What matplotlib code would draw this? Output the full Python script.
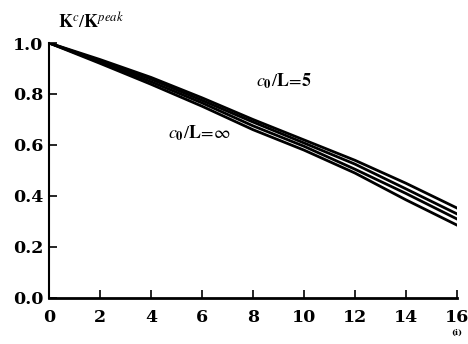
import matplotlib
matplotlib.use('Agg')
import matplotlib.pyplot as plt

# Values
omega = [0, 2, 4, 6, 8, 10, 12, 14, 16]
k_ratio_1 = [1.0, 0.935, 0.865, 0.785, 0.700, 0.620, 0.540, 0.450, 0.353]
k_ratio_2 = [1.0, 0.930, 0.858, 0.775, 0.690, 0.608, 0.525, 0.428, 0.330]
k_ratio_3 = [1.0, 0.925, 0.848, 0.765, 0.675, 0.595, 0.505, 0.410, 0.310]
k_ratio_4 = [1.0, 0.920, 0.838, 0.752, 0.660, 0.580, 0.490, 0.385, 0.286]
xticks = [0, 2, 4, 6, 8, 10, 12, 14, 16]
yticks = [0.0, 0.2, 0.4, 0.6, 0.8, 1.0]

matplotlib.rcParams['font.family'] = 'DejaVu Serif'
matplotlib.rcParams['mathtext.fontset'] = 'stix'

fig = plt.figure(figsize=(4.68, 3.44), dpi=100)
ax = fig.add_axes([0.105, 0.134, 0.871, 0.741])

for k in (k_ratio_1, k_ratio_2, k_ratio_3, k_ratio_4):
    ax.plot(omega, k, '-', color='k', linewidth=2.0)

ax.set_xlim(0, 16)
ax.set_ylim(0, 1.0)
ax.set_xticks(xticks)
ax.set_xticklabels([str(t) for t in xticks], fontweight='bold', fontsize=12.5)
ax.set_yticks(yticks)
ax.set_yticklabels(['%.1f' % t for t in yticks], fontweight='bold', fontsize=12.5)
ax.tick_params(direction='in', length=6, width=1.2)
ax.tick_params(axis='x', pad=8)
ax.tick_params(axis='y', pad=4)

ax.spines['top'].set_visible(False)
ax.spines['right'].set_visible(False)
ax.spines['left'].set_linewidth(1.5)
ax.spines['bottom'].set_linewidth(2)

# Annotations
fig.text(0.124, 0.935, r'$\mathbf{K}^{c}/\mathbf{K}^{\mathit{peak}}$', fontsize=13,
         va='center', ha='left')
ax.text(5.9, 0.645, r'$\mathbf{\mathit{c}_0}/\mathbf{L}\!=\!\infty$', fontsize=13,
        ha='center', va='center')
ax.text(9.2, 0.85, r'$\mathbf{\mathit{c}_0}/\mathbf{L}\!=\!\mathbf{5}$', fontsize=13,
        ha='center', va='center')
fig.text(0.976, 0.02, '(i)', fontsize=6, fontweight='bold', ha='center', va='bottom')

fig.savefig('out.png', dpi=100)
